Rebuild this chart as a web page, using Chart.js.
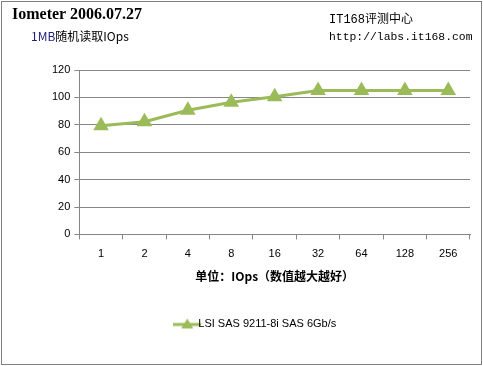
<!DOCTYPE html>
<html><head><meta charset="utf-8">
<script src="https://cdn.jsdelivr.net/npm/chart.js@4/dist/chart.umd.min.js"></script>
<style>
html,body{margin:0;padding:0;background:#fff;}
#wrap{position:relative;width:483px;height:366px;overflow:hidden;}
#frame{position:absolute;left:1px;top:1px;width:479px;height:362px;border:1px solid #808080;box-sizing:content-box;}
canvas{position:absolute;left:0;top:0;}
.t{position:absolute;white-space:nowrap;}
</style></head>
<body><div id="wrap">
<div id="frame"></div>
<canvas id="c" width="483" height="366"></canvas>
<div class="t" style="left:12px;top:5px;font:bold 16px 'Liberation Serif',serif;color:#000">Iometer 2006.07.27</div>
<div class="t" style="left:31px;top:27px;font:12px 'Noto Sans CJK SC',sans-serif;color:#000"><span style="color:#1f1f7a">1MB</span>随机读取IOps</div>
<div class="t" style="left:329px;top:9px;font:12px 'Liberation Mono','Noto Sans CJK SC',monospace;color:#000">IT168评测中心</div>
<div class="t" style="left:329px;top:31px;font:11.4px 'Liberation Mono',monospace;color:#000">http://labs.it168.com</div>
</div>
<script>
const categories = ["1","2","4","8","16","32","64","128","256"];
const seriesName = "LSI SAS 9211-8i SAS 6Gb/s";
const seriesValues = [79.3, 82.2, 90.6, 96.5, 100.5, 105, 105, 105, 105];
const yTicks = [0, 20, 40, 60, 80, 100, 120];
const xTitle = "单位：IOps（数值越大越好）";

const green = "#9BBB59";
// legend icon: line with triangle
const icon = document.createElement('canvas');
icon.width = 28; icon.height = 12;
(function(){
  const g = icon.getContext('2d');
  g.strokeStyle = green; g.lineWidth = 3;
  g.beginPath(); g.moveTo(0,7); g.lineTo(28,7); g.stroke();
  g.fillStyle = green;
  g.beginPath(); g.moveTo(14,1); g.lineTo(20,11); g.lineTo(8,11); g.closePath(); g.fill();
})();

new Chart(document.getElementById('c'), {
  type: 'line',
  data: {
    labels: categories,
    datasets: [{
      label: seriesName,
      data: seriesValues,
      borderColor: green,
      backgroundColor: green,
      borderWidth: 3,
      pointStyle: 'triangle',
      pointRadius: 6,
      pointHoverRadius: 6,
      tension: 0
    }]
  },
  options: {
    responsive: false,
    animation: false,
    devicePixelRatio: 1,
    layout: { padding: { left: 48, right: 13, top: 70, bottom: 27 } },
    plugins: {
      tooltip: { enabled: false },
      legend: {
        position: 'bottom',
        labels: {
          font: { family: "'Liberation Sans', sans-serif", size: 11 },
          color: '#000',
          usePointStyle: true,
          padding: 10,
          generateLabels: (chart) => [{
            text: seriesName, pointStyle: icon, fillStyle: green, strokeStyle: green,
            lineWidth: 0, hidden: false, datasetIndex: 0, fontColor: '#000'
          }]
        }
      }
    },
    scales: {
      x: {
        offset: true,
        grid: { offset: true, drawOnChartArea: false, drawTicks: true, tickLength: 5, color: '#868686' },
        border: { color: '#868686' },
        ticks: { font: { family: "'Liberation Sans', sans-serif", size: 11 }, color: '#000', padding: 8, maxRotation: 0 },
        title: { display: true, text: xTitle, font: { family: "'Noto Sans CJK SC', sans-serif", size: 12, weight: 'bold' }, color: '#000', padding: { top: 1, bottom: 24 } }
      },
      y: {
        min: 0, max: 120,
        afterBuildTicks: (s) => { s.ticks = yTicks.map(v => ({ value: v })); },
        grid: { color: '#868686', drawTicks: true, tickLength: 5 },
        border: { color: '#868686' },
        ticks: { font: { family: "'Liberation Sans', sans-serif", size: 11 }, color: '#000', padding: 4 }
      }
    }
  }
});
</script>
</body></html>
